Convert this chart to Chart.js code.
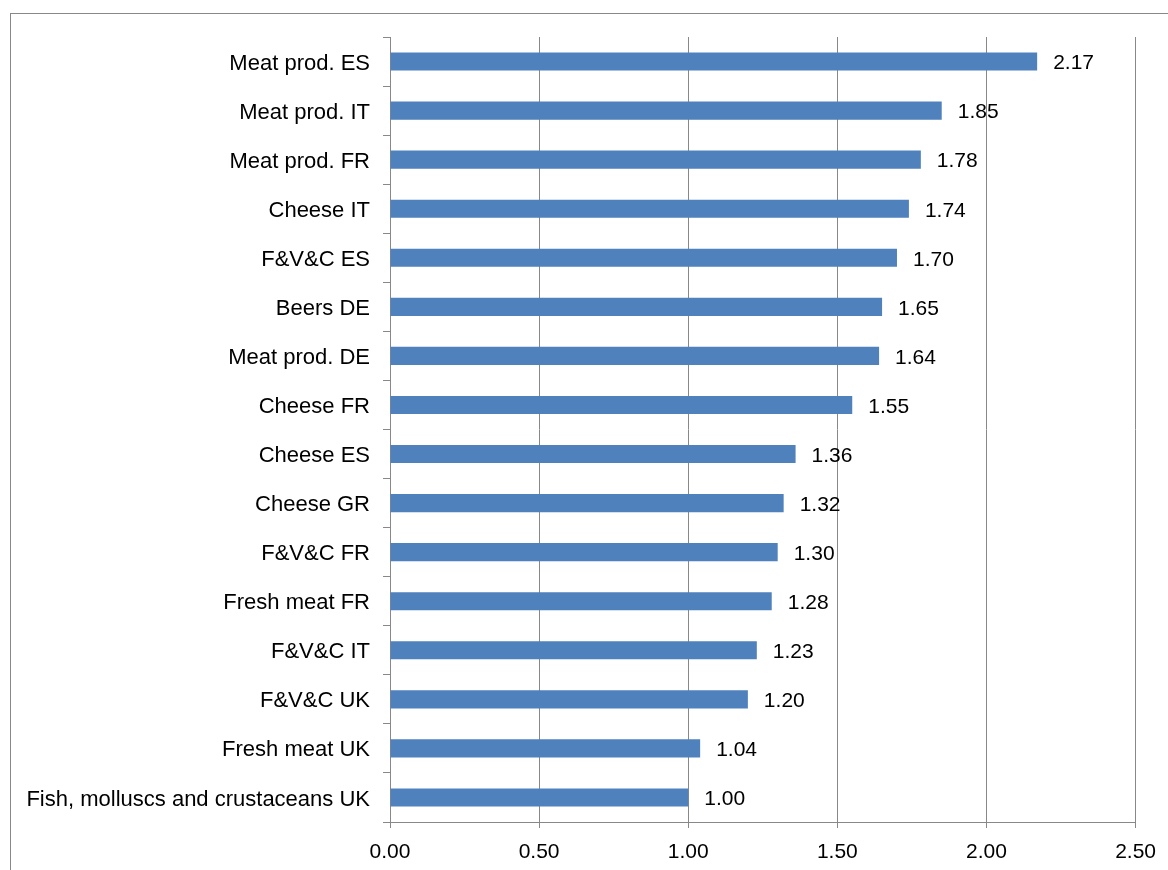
<!DOCTYPE html>
<html>
<head>
<meta charset="utf-8">
<script src="https://cdn.jsdelivr.net/npm/chart.js@4/dist/chart.umd.min.js"></script>
<style>
  html, body { margin: 0; padding: 0; background: #fff; }
  #wrap { width: 1168px; height: 870px; position: relative; }
</style>
</head>
<body>
<div id="wrap"><canvas id="barChart" width="1168" height="870"></canvas></div>
<script>
const categories = [
  'Meat prod. ES', 'Meat prod. IT', 'Meat prod. FR', 'Cheese IT', 'F&V&C ES',
  'Beers DE', 'Meat prod. DE', 'Cheese FR', 'Cheese ES', 'Cheese GR',
  'F&V&C FR', 'Fresh meat FR', 'F&V&C IT', 'F&V&C UK', 'Fresh meat UK',
  'Fish, molluscs and crustaceans UK'
];
const values = [2.17, 1.85, 1.78, 1.74, 1.70, 1.65, 1.64, 1.55, 1.36, 1.32, 1.30, 1.28, 1.23, 1.20, 1.04, 1.00];
const xTicks = [0, 0.5, 1.0, 1.5, 2.0, 2.5];

const FONT = 'Liberation Sans, Arial, sans-serif';
const GRID = '#888888';

// frame around the whole chart, value labels at bar ends
const framePlugin = {
  id: 'frame',
  beforeDraw(chart) {
    const ctx = chart.ctx;
    ctx.save();
    ctx.strokeStyle = GRID;
    ctx.lineWidth = 1;
    ctx.strokeRect(10.5, 13.5, 2000, 2000);
    ctx.restore();
  },
  afterDatasetsDraw(chart) {
    const ctx = chart.ctx;
    const meta = chart.getDatasetMeta(0);
    ctx.save();
    ctx.font = '21px ' + FONT;
    ctx.fillStyle = '#000';
    ctx.textAlign = 'left';
    ctx.textBaseline = 'middle';
    meta.data.forEach((bar, i) => {
      ctx.fillText(values[i].toFixed(2), bar.x + 16, bar.y + 2);
    });
    ctx.restore();
  }
};

new Chart(document.getElementById('barChart').getContext('2d'), {
  type: 'bar',
  data: {
    labels: categories,
    datasets: [{
      data: values,
      backgroundColor: '#4F81BD',
      borderWidth: 0,
      barPercentage: 0.74,
      categoryPercentage: 0.5
    }]
  },
  options: {
    indexAxis: 'y',
    responsive: false,
    animation: false,
    layout: { padding: { left: 0, right: 32, top: 37, bottom: 0 } },
    plugins: { legend: { display: false }, tooltip: { enabled: false } },
    scales: {
      x: {
        min: 0,
        max: 2.5,
        afterBuildTicks: s => { s.ticks = xTicks.map(v => ({ value: v })); },
        afterFit: s => { s.height = 48; },
        grid: { color: GRID, lineWidth: 1, tickLength: 6 },
        border: { color: GRID, width: 1 },
        ticks: {
          color: '#000',
          font: { family: FONT, size: 21 },
          padding: 12,
          maxRotation: 0,
          callback: v => Number(v).toFixed(2)
        }
      },
      y: {
        afterFit: s => { s.width = 390; },
        grid: { display: true, drawOnChartArea: false, color: GRID, tickLength: 7, offset: true },
        border: { color: GRID, width: 1 },
        ticks: {
          color: '#000',
          font: { family: FONT, size: 22 },
          padding: 13,
          labelOffset: 2,
          autoSkip: false
        }
      }
    }
  },
  plugins: [framePlugin]
});
</script>
</body>
</html>
